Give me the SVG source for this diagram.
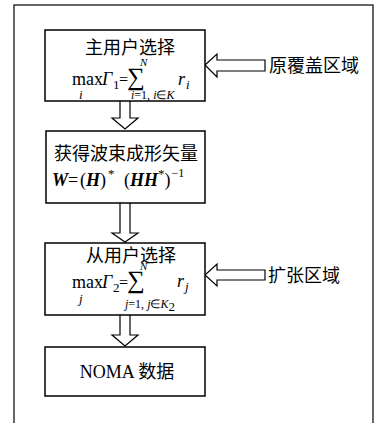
<svg xmlns="http://www.w3.org/2000/svg" width="377" height="423" viewBox="0 0 377 423">
<style>
.box{fill:#fff;stroke:#000;stroke-width:1.5}
.arr{fill:#fff;stroke:#000;stroke-width:1.2;stroke-linejoin:miter}
.cn{font-family:"Liberation Serif","Noto Sans CJK SC",serif;font-size:18px;fill:#000}
.m{font-family:"Liberation Serif",serif;fill:#000}
.it{font-style:italic}
.b{font-weight:bold;font-style:italic}
</style>
<rect x="0" y="0" width="377" height="423" fill="#fff"/>
<rect x="14" y="5" width="359" height="425" fill="none" stroke="#000" stroke-width="1.2"/>
<g id="connectors">
<path class="arr" d="M120,101 V118 H112 L125,129 L138,118 H130 V101"/>
<path class="arr" d="M120,203 V233 H112 L125,242 L138,233 H130 V203"/>
<path class="arr" d="M120,315 V335 H112 L125,346 L138,335 H130 V315"/>
<path class="arr" d="M205,65 L217,54 V60 H265 V71 H217 V77 Z"/>
<path class="arr" d="M205,275 L217,264 V270 H265 V280 H217 V286 Z"/>
</g>
<g id="n1">
<rect class="box" x="45" y="30" width="160" height="71"/>
<text class="cn" x="130" y="54" text-anchor="middle">主用户选择</text>
<text class="m" font-size="18" x="72" y="85">max</text>
<text class="m it" font-size="13" x="79" y="99">i</text>
<text class="m it" font-size="18" x="102" y="85">Γ</text>
<text class="m" font-size="13" x="113" y="89">1</text>
<text class="m" font-size="16" x="119" y="85">=</text>
<text class="m" font-size="25" x="127" y="85">∑</text>
<text class="m it" font-size="11" x="140" y="66">N</text>
<text class="m" font-size="12" x="131" y="99"><tspan class="it">i</tspan>=1, <tspan class="it">i</tspan>∈<tspan class="it">K</tspan></text>
<text class="m it" font-size="18" x="178" y="85">r</text>
<text class="m it" font-size="13" x="186" y="89">i</text>
</g>
<g id="n2">
<rect class="box" x="46" y="131" width="159" height="72"/>
<text class="cn" x="126" y="160" text-anchor="middle">获得波束成形矢量</text>
<text class="m" font-size="18" x="52" y="186"><tspan class="b">W</tspan>=</text>
<text class="m" font-size="18" x="80" y="186">(<tspan class="b">H</tspan>)</text>
<text class="m" font-size="13" x="108" y="178">*</text>
<text class="m" font-size="18" x="124" y="186">(<tspan class="b">HH</tspan><tspan font-size="13" dy="-8">*</tspan><tspan dy="8">)</tspan><tspan font-size="12" dx="1" dy="-9">−1</tspan></text>
</g>
<g id="n3">
<rect class="box" x="45" y="243" width="160" height="72"/>
<text class="cn" x="131" y="262" text-anchor="middle">从用户选择</text>
<text class="m" font-size="18" x="72" y="288">max</text>
<text class="m it" font-size="13" x="79" y="303">j</text>
<text class="m it" font-size="18" x="102" y="288">Γ</text>
<text class="m" font-size="13" x="113" y="292">2</text>
<text class="m" font-size="16" x="119" y="288">=</text>
<text class="m" font-size="25" x="127" y="288">∑</text>
<text class="m it" font-size="11" x="140" y="270">N</text>
<text class="m" font-size="12" x="125" y="308"><tspan class="it">j</tspan>=1, <tspan class="it">j</tspan>∈<tspan class="it">K</tspan><tspan font-size="13" dy="3">2</tspan></text>
<text class="m it" font-size="18" x="177" y="287">r</text>
<text class="m it" font-size="13" x="185" y="291">j</text>
</g>
<g id="n4">
<rect class="box" x="45" y="347" width="160" height="49"/>
<text class="cn" x="127" y="378" text-anchor="middle">NOMA 数据</text>
</g>
<g id="l1">
<text class="cn" x="269" y="72" font-size="19">原覆盖区域</text>
</g>
<g id="l2">
<text class="cn" x="268" y="282" font-size="19">扩张区域</text>
</g>
</svg>
